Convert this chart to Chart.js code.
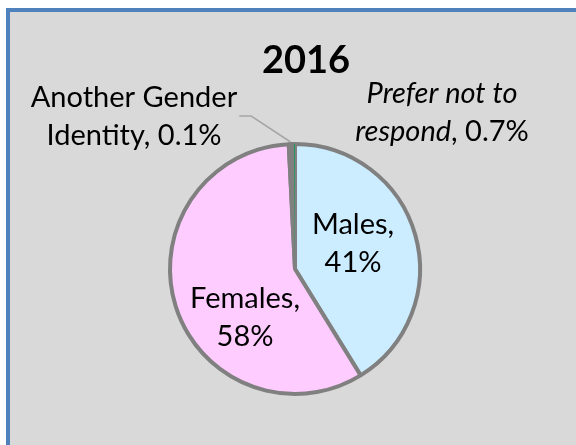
<!DOCTYPE html>
<html>
<head>
<meta charset="utf-8">
<script src="https://cdn.jsdelivr.net/npm/chart.js@4"></script>
<style>
  html, body { margin: 0; padding: 0; background: #fff; overflow: hidden; }
  #frame {
    position: absolute; left: 6px; top: 8px; width: 600px; height: 460px;
    border: 4px solid #4F81BD; background: #D9D9D9;
  }
  #wrap { position: absolute; left: 0; top: 0; width: 576px; height: 445px; }
</style>
</head>
<body>
<div id="frame"></div>
<div id="wrap"><canvas id="genderPie" width="576" height="445"></canvas></div>
<script>
  'use strict';

  // ---- data
  const chartTitle = '2016';
  const categories = ['Males', 'Females', 'Prefer not to respond', 'Another Gender Identity'];
  const shares = [41.2, 58.0, 0.7, 0.1];
  const shareLabels = ['41%', '58%', '0.7%', '0.1%'];

  const sliceColors = ['#CCECFF', '#FFCCFF', '#7F7F7F', '#00A050'];
  const FONT = 'Lato, "Open Sans", sans-serif';
  const LABEL_PX = 29;

  // label text pieces per slice; offsets are from the pie centre, y is first baseline
  const labelLayout = [
    { dx: 58, dy: -35, lines: [[['Males,', '']], [[shareLabels[0], '']]] },
    { dx: -50, dy: 39, lines: [[['Females,', '']], [[shareLabels[1], '']]] },
    { dx: 147, dy: -166, lines: [[['Prefer not to', 'italic ']], [['respond', 'italic '], [', ' + shareLabels[2], '']]] },
    { dx: -161, dy: -162, lines: [[['Another Gender', '']], [['Identity, ' + shareLabels[3], '']]], leader: true }
  ];
  const LINE_H = 38;

  // ---- labels, leader line and title drawn on top of the pie
  const sliceLabels = {
    id: 'sliceLabels',
    afterDatasetsDraw(chart) {
      const ctx = chart.ctx;
      const arcs = chart.getDatasetMeta(0).data;
      ctx.save();
      ctx.fillStyle = '#000';
      ctx.textBaseline = 'alphabetic';
      ctx.textAlign = 'left';

      labelLayout.forEach((lab, i) => {
        const arc = arcs[i];
        const cx = arc.x + lab.dx;
        let y = arc.y + lab.dy;
        let right = -Infinity;
        lab.lines.forEach(segs => {
          let w = 0;
          segs.forEach(([t, st]) => { ctx.font = st + LABEL_PX + 'px ' + FONT; w += ctx.measureText(t).width; });
          let x = cx - w / 2;
          segs.forEach(([t, st]) => {
            ctx.font = st + LABEL_PX + 'px ' + FONT;
            ctx.fillText(t, x, y);
            x += ctx.measureText(t).width;
          });
          right = Math.max(right, cx + w / 2);
          y += LINE_H;
        });

        if (lab.leader) {
          const mid = (arc.startAngle + arc.endAngle) / 2;
          const ex = arc.x + arc.outerRadius * Math.cos(mid) - 4;
          const ey = arc.y + arc.outerRadius * Math.sin(mid) - 2;
          const sy = arc.y + lab.dy + 9;
          ctx.strokeStyle = '#A6A6A6';
          ctx.lineWidth = 1.5;
          ctx.beginPath();
          ctx.moveTo(right + 2, sy);
          ctx.lineTo(right + 14, sy);
          ctx.lineTo(ex, ey);
          ctx.stroke();
        }
      });

      ctx.font = 'bold 38px ' + FONT;
      ctx.textAlign = 'center';
      ctx.fillText(chartTitle, arcs[0].x + 11, arcs[0].y - 196);
      ctx.restore();
    }
  };

  new Chart(document.getElementById('genderPie'), {
    type: 'pie',
    data: {
      labels: categories,
      datasets: [{
        data: shares,
        backgroundColor: sliceColors,
        borderColor: '#808080',
        borderWidth: [4, 4, 4, 0]
      }]
    },
    options: {
      responsive: false,
      animation: false,
      layout: { padding: { left: 168, right: 154, top: 142, bottom: 49 } },
      plugins: {
        legend: { display: false },
        title: { display: false },
        tooltip: { enabled: false }
      }
    },
    plugins: [sliceLabels]
  });
</script>
</body>
</html>
